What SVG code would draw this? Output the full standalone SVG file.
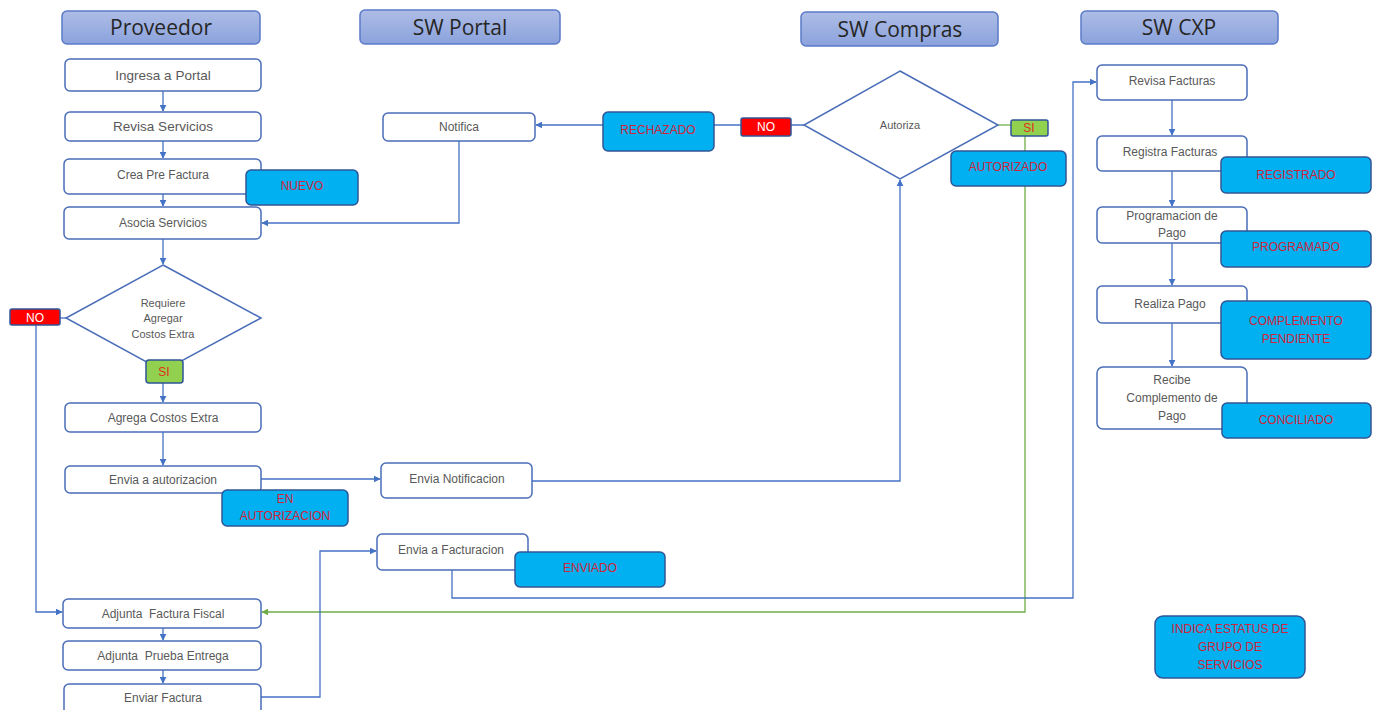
<svg xmlns="http://www.w3.org/2000/svg" width="1374" height="710" viewBox="0 0 1374 710">
<defs>
<linearGradient id="hg" x1="0" y1="0" x2="0" y2="1">
<stop offset="0" stop-color="#aebde6"/>
<stop offset="1" stop-color="#8aa2dc"/>
</linearGradient>
<marker id="ab" viewBox="0 0 10 10" refX="9" refY="5" markerWidth="7" markerHeight="7" orient="auto" markerUnits="userSpaceOnUse"><path d="M0,0 L10,5 L0,10 z" fill="#4472c4"/></marker>
<marker id="ag" viewBox="0 0 10 10" refX="9" refY="5" markerWidth="7" markerHeight="7" orient="auto" markerUnits="userSpaceOnUse"><path d="M0,0 L10,5 L0,10 z" fill="#70ad47"/></marker>
</defs>
<style>
.hdr{fill:url(#hg);stroke:#5b7bc8;stroke-width:1.5}
.ht{font-family:"Open Sans","Liberation Sans",sans-serif;font-size:21px;fill:#262626;text-anchor:middle}
.nd{fill:#fff;stroke:#4a6db8;stroke-width:1.5}
.nt{font-family:"Liberation Sans",sans-serif;font-size:12px;fill:#595959;text-anchor:middle}
.nt2{font-family:"Liberation Sans",sans-serif;font-size:13.5px;fill:#595959;text-anchor:middle}
.st{fill:#00b0f0;stroke:#2f5597;stroke-width:1.5}
.stt{font-family:"Liberation Sans",sans-serif;font-size:12px;fill:#d0263c;text-anchor:middle}
.no{fill:#ff0000;stroke:#2f5597;stroke-width:1.5}
.si{fill:#92d050;stroke:#2f5597;stroke-width:1.5}
.nwt{font-family:"Liberation Sans",sans-serif;font-size:12px;fill:#ffffff;text-anchor:middle}
.sit{font-family:"Liberation Sans",sans-serif;font-size:12px;fill:#e0301e;text-anchor:middle}
.cb{fill:none;stroke:#4472c4;stroke-width:1.3}
.cg{fill:none;stroke:#70ad47;stroke-width:1.3}
</style>

<g id="connectors">
<path class="cb" d="M163,91 V111" marker-end="url(#ab)"/>
<path class="cb" d="M163,141 V158" marker-end="url(#ab)"/>
<path class="cb" d="M163,194 V206" marker-end="url(#ab)"/>
<path class="cb" d="M163,239 V264" marker-end="url(#ab)"/>
<path class="cb" d="M163,383 V402" marker-end="url(#ab)"/>
<path class="cb" d="M163,432 V465" marker-end="url(#ab)"/>
<path class="cb" d="M163,628 V640" marker-end="url(#ab)"/>
<path class="cb" d="M163,670 V683" marker-end="url(#ab)"/>
<path class="cb" d="M261,479 H380" marker-end="url(#ab)"/>
<path class="cb" d="M532,481 H900 V180" marker-end="url(#ab)"/>
<path class="cb" d="M804,125 H536" marker-end="url(#ab)"/>
<path class="cb" d="M459,141 V223 H262" marker-end="url(#ab)"/>
<path class="cb" d="M66,318 H60"/>
<path class="cb" d="M36,325 V612 H62" marker-end="url(#ab)"/>
<path class="cg" d="M998,125 H1011"/>
<path class="cg" d="M1025,136 V612 H262" marker-end="url(#ag)"/>
<path class="cb" d="M261,697 H320 V551 H376" marker-end="url(#ab)"/>
<path class="cb" d="M452,570 V598 H1073 V82 H1096" marker-end="url(#ab)"/>
<path class="cb" d="M1172,100 V135" marker-end="url(#ab)"/>
<path class="cb" d="M1172,171 V206" marker-end="url(#ab)"/>
<path class="cb" d="M1172,243 V285" marker-end="url(#ab)"/>
<path class="cb" d="M1172,323 V366" marker-end="url(#ab)"/>
</g>

<g id="hdr-proveedor"><rect class="hdr" x="62" y="11" width="198" height="33" rx="5"/><text class="ht" x="161" y="35">Proveedor</text></g>
<g id="hdr-portal"><rect class="hdr" x="360" y="10" width="200" height="34" rx="5"/><text class="ht" x="460" y="35">SW Portal</text></g>
<g id="hdr-compras"><rect class="hdr" x="801" y="12" width="197" height="34" rx="5"/><text class="ht" x="900" y="37">SW Compras</text></g>
<g id="hdr-cxp"><rect class="hdr" x="1081" y="11" width="197" height="33" rx="5"/><text class="ht" x="1179" y="35">SW CXP</text></g>

<g id="ingresa"><rect class="nd" x="65" y="59" width="196" height="32" rx="5"/><text class="nt2" x="163" y="80">Ingresa a Portal</text></g>
<g id="revisa-servicios"><rect class="nd" x="65" y="112" width="196" height="29" rx="5"/><text class="nt2" x="163" y="131">Revisa Servicios</text></g>
<g id="crea-pre"><rect class="nd" x="64" y="159" width="197" height="35" rx="5"/><text class="nt" x="163" y="179">Crea Pre Factura</text></g>
<g id="st-nuevo"><rect class="st" x="246" y="170" width="112" height="35" rx="5"/><text class="stt" x="302" y="190">NUEVO</text></g>
<g id="asocia"><rect class="nd" x="64" y="207" width="197" height="32" rx="5"/><text class="nt" x="163" y="227">Asocia Servicios</text></g>
<g id="dec-costos"><polygon class="nd" points="163,265 261,318 163,371 66,318"/>
<text class="nt" style="font-size:11px" x="163" y="307">Requiere</text>
<text class="nt" style="font-size:11px" x="163" y="322">Agregar</text>
<text class="nt" style="font-size:11px" x="163" y="338">Costos Extra</text></g>
<g id="no1"><rect class="no" x="10" y="309" width="50" height="16" rx="2"/><text class="nwt" x="35" y="322">NO</text></g>
<g id="si1"><rect class="si" x="146" y="360" width="37" height="23" rx="3"/><text class="sit" x="164" y="376">SI</text></g>
<g id="agrega"><rect class="nd" x="65" y="403" width="196" height="29" rx="5"/><text class="nt" x="163" y="422">Agrega Costos Extra</text></g>
<g id="envia-aut"><rect class="nd" x="65" y="466" width="196" height="27" rx="5"/><text class="nt" x="163" y="484">Envia a autorizacion</text></g>
<g id="st-enaut"><rect class="st" x="222" y="490" width="126" height="36" rx="5"/><text class="stt" x="285" y="503">EN</text><text class="stt" x="285" y="520">AUTORIZACION</text></g>
<g id="adj-factura"><rect class="nd" x="63" y="599" width="198" height="29" rx="5"/><text class="nt" x="163" y="618" xml:space="preserve">Adjunta  Factura Fiscal</text></g>
<g id="adj-prueba"><rect class="nd" x="63" y="641" width="198" height="29" rx="5"/><text class="nt" x="163" y="660" xml:space="preserve">Adjunta  Prueba Entrega</text></g>
<g id="enviar-factura"><rect class="nd" x="64" y="684" width="197" height="32" rx="5"/><text class="nt" x="163" y="702">Enviar Factura</text></g>

<g id="notifica"><rect class="nd" x="383" y="113" width="152" height="28" rx="5"/><text class="nt" x="459" y="131">Notifica</text></g>
<g id="envia-notif"><rect class="nd" x="381" y="463" width="151" height="35" rx="5"/><text class="nt" x="457" y="483">Envia Notificacion</text></g>
<g id="envia-fact"><rect class="nd" x="377" y="534" width="151" height="36" rx="5"/><text class="nt" x="451" y="554">Envia a Facturacion</text></g>
<g id="st-enviado"><rect class="st" x="515" y="552" width="150" height="35" rx="5"/><text class="stt" x="590" y="572">ENVIADO</text></g>

<g id="st-rechazado"><rect class="st" x="603" y="112" width="111" height="39" rx="5"/><text class="stt" x="658" y="134">RECHAZADO</text></g>
<g id="no2"><rect class="no" x="741" y="118" width="50" height="18" rx="2"/><text class="nwt" x="766" y="131">NO</text></g>
<g id="dec-autoriza"><polygon class="nd" points="900,71 998,125 900,179 804,125"/><text class="nt" style="font-size:11px" x="900" y="129">Autoriza</text></g>
<g id="si2"><rect class="si" x="1011" y="120" width="37" height="16" rx="2"/><text class="sit" x="1029" y="132">SI</text></g>
<g id="st-autorizado"><rect class="st" x="951" y="151" width="115" height="35" rx="5"/><text class="stt" x="1008" y="171">AUTORIZADO</text></g>

<g id="revisa-facturas"><rect class="nd" x="1097" y="65" width="150" height="35" rx="5"/><text class="nt" x="1172" y="85">Revisa Facturas</text></g>
<g id="registra"><rect class="nd" x="1097" y="136" width="150" height="35" rx="5"/><text class="nt" x="1170" y="156">Registra Facturas</text></g>
<g id="st-registrado"><rect class="st" x="1221" y="157" width="150" height="36" rx="5"/><text class="stt" x="1296" y="179">REGISTRADO</text></g>
<g id="programacion"><rect class="nd" x="1097" y="207" width="150" height="36" rx="5"/><text class="nt" x="1172" y="220">Programacion de</text><text class="nt" x="1172" y="237">Pago</text></g>
<g id="st-programado"><rect class="st" x="1221" y="231" width="150" height="36" rx="5"/><text class="stt" x="1296" y="251">PROGRAMADO</text></g>
<g id="realiza"><rect class="nd" x="1097" y="286" width="150" height="37" rx="5"/><text class="nt" x="1170" y="308">Realiza Pago</text></g>
<g id="st-complemento"><rect class="st" x="1221" y="301" width="150" height="58" rx="6"/><text class="stt" x="1296" y="325">COMPLEMENTO</text><text class="stt" x="1296" y="343">PENDIENTE</text></g>
<g id="recibe"><rect class="nd" x="1097" y="367" width="150" height="62" rx="6"/><text class="nt" x="1172" y="384">Recibe</text><text class="nt" x="1172" y="402">Complemento de</text><text class="nt" x="1172" y="420">Pago</text></g>
<g id="st-conciliado"><rect class="st" x="1222" y="403" width="149" height="35" rx="5"/><text class="stt" x="1296" y="424">CONCILIADO</text></g>

<g id="legend"><rect class="st" x="1155" y="616" width="150" height="62" rx="8"/><text class="stt" x="1230" y="633">INDICA ESTATUS DE</text><text class="stt" x="1230" y="651">GRUPO DE</text><text class="stt" x="1230" y="669">SERVICIOS</text></g>
</svg>
